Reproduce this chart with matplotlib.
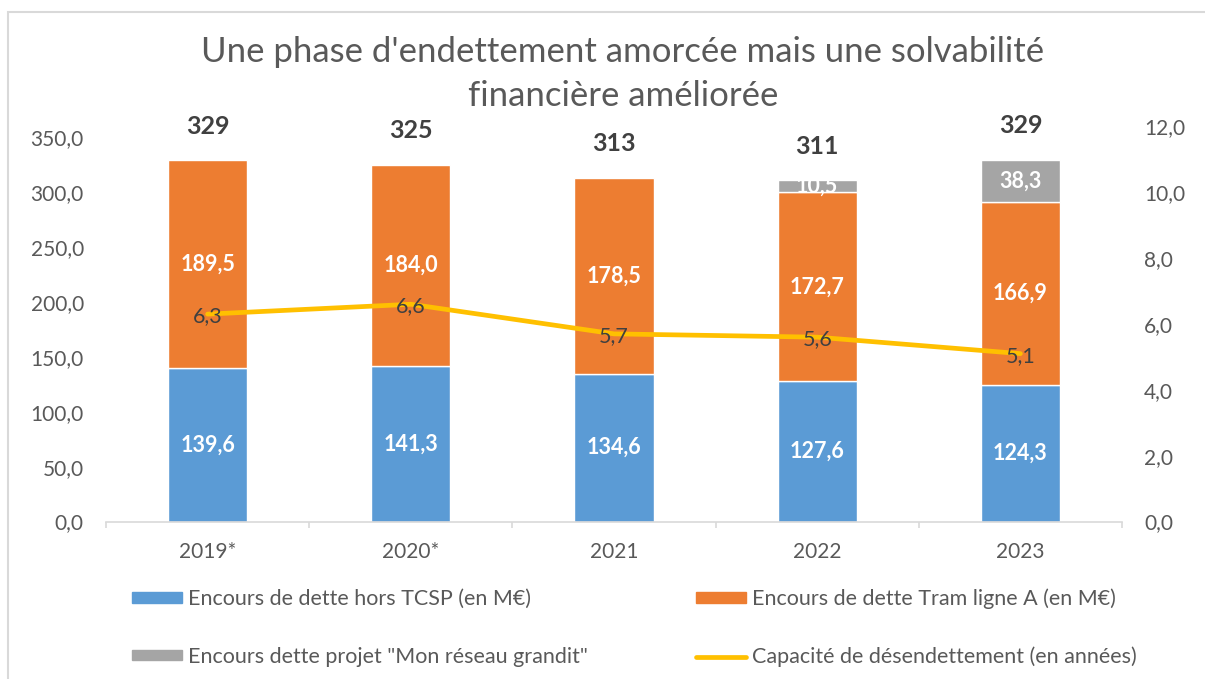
import matplotlib
matplotlib.use("Agg")
import matplotlib.pyplot as plt
from matplotlib.patches import Rectangle, Patch
from matplotlib.lines import Line2D
import numpy as np

plt.rcParams['font.family'] = ['Lato', 'DejaVu Sans']

years = ["2019*", "2020*", "2021", "2022", "2023"]
hors_tcsp = [139.6, 141.3, 134.6, 127.6, 124.3]
tram_a = [189.5, 184.0, 178.5, 172.7, 166.9]
mon_reseau = [0, 0, 0, 10.5, 38.3]
totals = [329, 325, 313, 311, 329]
capacite = [6.3, 6.6, 5.7, 5.6, 5.1]

BLUE = '#5B9BD5'
ORANGE = '#ED7D31'
GREY = '#A5A5A5'
YELLOW = '#FFC000'
TXT = '#595959'
DARK = '#404040'
AXC = '#D9D9D9'

def fmt(v):
    return f"{v:.1f}".replace('.', ',')

W, H = 1205, 679
fig = plt.figure(figsize=(W / 100, H / 100), dpi=100)
ax = fig.add_axes([106 / W, 1 - 521.5 / H, (1122 - 106) / W, (521.5 - 126.5) / H])
ax2 = ax.twinx()

x = np.arange(len(years))
bw = 0.39
b1 = np.array(hors_tcsp)
b2 = np.array(tram_a)
b3 = np.array(mon_reseau)

ax.bar(x, b1, bw, color=BLUE, edgecolor='white', linewidth=1)
ax.bar(x, b2, bw, bottom=b1, color=ORANGE, edgecolor='white', linewidth=1)
gx = [i for i in x if b3[i] > 0]
ax.bar(gx, b3[gx], bw, bottom=(b1 + b2)[gx], color=GREY, edgecolor='white', linewidth=1)

lab = dict(ha='center', va='center', color='white', fontsize=15.5, fontweight='bold')
for i in x:
    ax.text(i, b1[i] / 2, fmt(b1[i]), **lab)
    ax.text(i, b1[i] + b2[i] / 2, fmt(b2[i]), **lab)
    if b3[i] > 0:
        ax.text(i, b1[i] + b2[i] + b3[i] / 2, fmt(b3[i]), **lab)
    top = b1[i] + b2[i] + b3[i]
    ax.annotate(str(totals[i]), (i, top), xytext=(0, 24.5), textcoords='offset points',
                ha='center', va='center', fontsize=18, fontweight='bold', color=DARK)

ax2.plot(x, capacite, color=YELLOW, linewidth=3.4, solid_capstyle='round')
for i in x:
    ax2.annotate(fmt(capacite[i]), (i, capacite[i]), xytext=(0, -1.5), textcoords='offset points',
                 ha='center', va='center', fontsize=15.5, color=DARK)

ax.set_xlim(-0.5, len(years) - 0.5)
ax.set_ylim(0, 360)
ax2.set_ylim(0, 12)
ax.set_yticks(np.arange(0, 351, 50))
ax.set_yticklabels([fmt(v) for v in np.arange(0, 351, 50)])
ax2.set_yticks(np.arange(0, 12.1, 2))
ax2.set_yticklabels([fmt(v) for v in np.arange(0, 12.1, 2)])
ax.set_xticks(x)
ax.set_xticklabels(years)
ax.set_xticks(np.arange(-0.5, len(years), 1), minor=True)

for a in (ax, ax2):
    for s in ('top', 'left', 'right', 'bottom'):
        a.spines[s].set_visible(False)
ax.spines['bottom'].set_visible(True)
ax.spines['bottom'].set_color(AXC)
ax.spines['bottom'].set_linewidth(1.2)

ax.tick_params(axis='y', length=0, pad=16, labelsize=15, labelcolor=TXT)
ax2.tick_params(axis='y', length=0, pad=16, labelsize=15, labelcolor=TXT)
ax.tick_params(axis='x', which='major', length=0, pad=15, labelsize=15, labelcolor=TXT)
ax.tick_params(axis='x', which='minor', length=4, width=1.2, color=AXC)

fig.text(0.517, 1 - 74 / H, "Une phase d'endettement amorcée mais une solvabilité\nfinancière améliorée",
         ha='center', va='center', fontsize=25, color=TXT, linespacing=1.45)

# border of the chart area
fig.patches.append(Rectangle((8 / W, -0.1), 1.2, 1.1 - 12 / H, transform=fig.transFigure,
                             fill=False, edgecolor=AXC, linewidth=1.5))

h1 = [Patch(color=BLUE), Patch(color=GREY)]
l1 = ["Encours de dette hors TCSP (en M€)", "Encours dette projet \"Mon réseau grandit\""]
h2 = [Patch(color=ORANGE), Line2D([], [], color=YELLOW, linewidth=3.4, solid_capstyle='round')]
l2 = ["Encours de dette Tram ligne A (en M€)", "Capacité de désendettement (en années)"]
leg_kw = dict(loc='center left', frameon=False, fontsize=15.5, labelcolor=TXT,
              handlelength=2.3, handleheight=0.38, handletextpad=0.3, labelspacing=1.75,
              borderpad=0, borderaxespad=0)
fig.legend(h1, l1, bbox_to_anchor=(132 / W, 1 - 628 / H), **leg_kw)
fig.legend(h2, l2, bbox_to_anchor=(696 / W, 1 - 628 / H), **leg_kw)

fig.savefig("out.png", dpi=100)
